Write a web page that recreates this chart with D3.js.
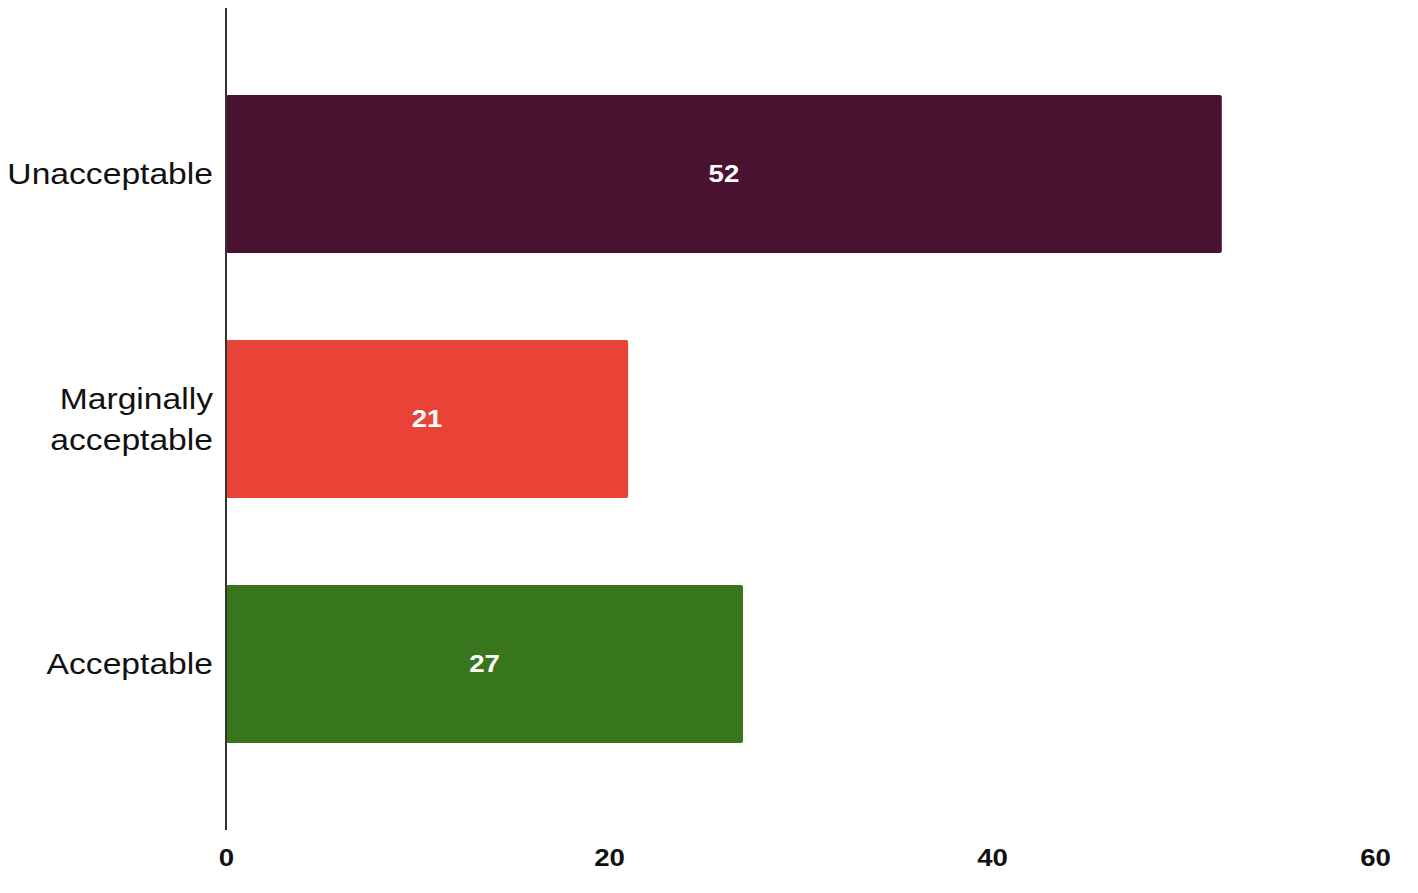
<!DOCTYPE html>
<html><head><meta charset="utf-8">
<script src="https://cdn.jsdelivr.net/npm/d3@7"></script>
<style>body{margin:0;background:#fff}svg{display:block}</style>
</head><body><svg id="c" width="1418" height="893"></svg>
<script>
const categories = ["Unacceptable", "Marginally acceptable", "Acceptable"];
const labelLines = [["Unacceptable"], ["Marginally", "acceptable"], ["Acceptable"]];
const values = [52, 21, 27];
const colors = ["#4b1130", "#e84336", "#38761d"];
const tickValues = [0, 20, 40, 60];

const FONT = "Liberation Sans, Arial, sans-serif";
const svg = d3.select("#c");
const x0 = 226;
const x = d3.scaleLinear().domain([0, 60]).range([x0, 1375]);
const y = d3.scaleBand().domain(categories).range([21.5, 816.5]).paddingInner(0.355).paddingOuter(0.3);

svg.selectAll("rect.bar").data(values).join("rect")
  .attr("class", "bar")
  .attr("x", x(0))
  .attr("y", (d, i) => y(categories[i]))
  .attr("width", d => x(d) - x(0))
  .attr("height", y.bandwidth())
  .attr("rx", 2)
  .attr("fill", (d, i) => colors[i]);

svg.selectAll("text.val").data(values).join("text")
  .attr("class", "val")
  .attr("transform", (d, i) => `translate(${(x(0) + x(d)) / 2},${y(categories[i]) + y.bandwidth() / 2}) scale(1.15,1)`)
  .attr("dy", "0.34em")
  .attr("text-anchor", "middle")
  .attr("fill", "#fff")
  .attr("font-family", FONT)
  .attr("font-weight", "bold")
  .attr("font-size", 24)
  .text(d => d);

const lab = svg.selectAll("text.cat").data(categories).join("text")
  .attr("class", "cat")
  .attr("text-anchor", "end")
  .attr("font-family", FONT)
  .attr("font-size", 29)
  .attr("fill", "#111")
  .attr("transform", c => `translate(213,${y(c) + y.bandwidth() / 2}) scale(1.16,1)`);
lab.each(function(c, i) {
  const lines = labelLines[i];
  const lh = 41;
  d3.select(this).selectAll("tspan").data(lines).join("tspan")
    .attr("x", 0)
    .attr("y", (l, j) => (j - (lines.length - 1) / 2) * lh)
    .attr("dy", "0.36em")
    .text(l => l);
});

svg.append("line")
  .attr("x1", x0).attr("x2", x0).attr("y1", 8).attr("y2", 830)
  .attr("stroke", "#333").attr("stroke-width", 2);

const axis = d3.axisBottom(x).tickValues(tickValues).tickSize(0).tickPadding(0);
const g = svg.append("g").attr("transform", "translate(0,866)").call(axis);
g.select(".domain").remove();
g.selectAll("text")
  .attr("font-family", FONT)
  .attr("font-weight", "bold")
  .attr("font-size", 23)
  .attr("fill", "#111")
  .attr("y", 0)
  .attr("dy", 0)
  .attr("transform", "scale(1.2,1)");
</script></body></html>
